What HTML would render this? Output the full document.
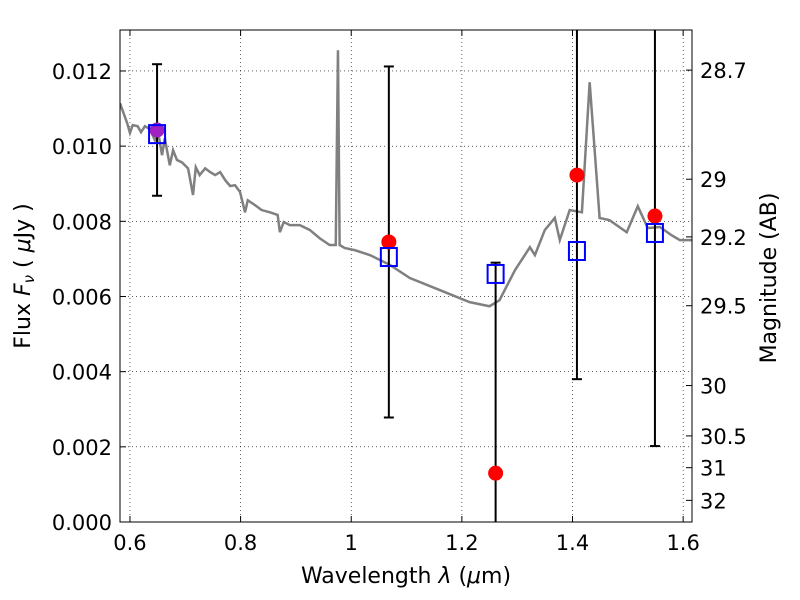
<!DOCTYPE html>
<html><head><meta charset="utf-8"><style>
html,body{margin:0;padding:0;background:#fff;width:800px;height:600px;overflow:hidden;}
svg{display:block;}
svg text{font-family:"DejaVu Sans","Liberation Sans",sans-serif;}
</style></head><body>
<svg id="chart" width="800" height="600" xmlns="http://www.w3.org/2000/svg"></svg>
<script>
const specLam=[0.582,0.595,0.600,0.605,0.614,0.620,0.627,0.636,0.645,0.651,0.658,0.663,0.672,0.678,0.685,0.694,0.705,0.714,0.719,0.726,0.736,0.745,0.754,0.763,0.772,0.781,0.790,0.799,0.808,0.813,0.826,0.838,0.853,0.867,0.871,0.878,0.889,0.907,0.925,0.943,0.961,0.972,0.976,0.979,0.988,1.007,1.034,1.070,1.106,1.160,1.214,1.250,1.268,1.296,1.323,1.332,1.350,1.368,1.377,1.395,1.417,1.431,1.449,1.467,1.498,1.518,1.536,1.558,1.579,1.594,1.616];
const specFlux=[0.01114,0.01061,0.01035,0.01056,0.01053,0.01037,0.01053,0.01045,0.01016,0.01037,0.00976,0.01021,0.00949,0.00989,0.00963,0.00957,0.00941,0.00870,0.00944,0.00923,0.00941,0.00931,0.00923,0.00931,0.00910,0.00894,0.00896,0.00878,0.00824,0.00856,0.00843,0.00830,0.00824,0.00817,0.00771,0.00798,0.00790,0.00790,0.00777,0.00755,0.00737,0.00737,0.01255,0.00737,0.00729,0.00723,0.00710,0.00684,0.00649,0.00617,0.00585,0.00574,0.00590,0.00670,0.00731,0.00710,0.00777,0.00809,0.00750,0.00830,0.00824,0.01170,0.00809,0.00803,0.00771,0.00840,0.00782,0.00785,0.00763,0.00750,0.00750];
const bandLam=[0.649,1.068,1.261,1.408,1.549];
const obsFlux=[0.01043,0.00745,0.00130,0.00923,0.00814];
const obsErr=[0.00175,0.00467,0.00560,0.00543,0.00612];
const modelFlux=[0.01032,0.00705,0.00660,0.00721,0.00769];
const xTicks=[0.8,1.0,1.2,1.4,1.6];
const xTickLabels=["0.8","1","1.2","1.4","1.6"];
const yTicks=[0,0.002,0.004,0.006,0.008,0.010,0.012];
const yTickLabels=["0.000","0.002","0.004","0.006","0.008","0.010","0.012"];
const magTicks=[28.7,29,29.2,29.5,30,30.5,31,32];
const magTickLabels=["28.7","29","29.2","29.5","30","30.5","31","32"];

const L=120,R=692,T=30,B=522,x0=0.582,x1=1.616,y0=0,y1=0.01309;
const sx=v=>L+(v-x0)/(x1-x0)*(R-L);
const sy=v=>B-(v-y0)/(y1-y0)*(B-T);
const svg=document.getElementById('chart');
const NS='http://www.w3.org/2000/svg';
function mk(tag,attrs,parent){const e=document.createElementNS(NS,tag);for(const k in attrs)e.setAttribute(k,attrs[k]);(parent||svg).appendChild(e);return e;}
const defs=mk('defs',{});const cp=mk('clipPath',{id:'clip'},defs);mk('rect',{x:L,y:T,width:R-L,height:B-T},cp);

const grid=mk('g',{});


[0.6].concat(xTicks).forEach(v=>mk('line',{x1:sx(v),x2:sx(v),y1:T,y2:B,stroke:'#000','stroke-dasharray':'1,3','stroke-width':0.6},grid));
yTicks.forEach(v=>mk('line',{x1:L,x2:R,y1:sy(v),y2:sy(v),stroke:'#000','stroke-dasharray':'1,3','stroke-width':0.6},grid));

const plot=mk('g',{'clip-path':'url(#clip)'});
const line=mk('polyline',{points:specLam.map((l,i)=>sx(l)+','+sy(specFlux[i])).join(' '),fill:'none',stroke:'#808080','stroke-width':2.5},plot);



bandLam.forEach((l,i)=>{
  const g=mk('g',{},plot);
  
  
  const x=sx(l),yt=sy(obsFlux[i]+obsErr[i]),yb=sy(obsFlux[i]-obsErr[i]);
  mk('line',{x1:x,x2:x,y1:yt,y2:yb,stroke:'#000','stroke-width':2},g);
  mk('line',{x1:x-5,x2:x+5,y1:yt,y2:yt,stroke:'#000','stroke-width':2},g);
  mk('line',{x1:x-5,x2:x+5,y1:yb,y2:yb,stroke:'#000','stroke-width':2},g);
});
bandLam.forEach((l,i)=>{
  const c=mk('circle',{cx:sx(l),cy:sy(obsFlux[i]),r:7.5,fill:i===0?'#a020c0':'#ff0000'},plot);
  
  
  const s=mk('rect',{x:sx(l)-8,y:sy(modelFlux[i])-9,width:16,height:18,fill:'none',stroke:'#0000ff','stroke-width':2},plot);
  
  
});

mk('rect',{x:L,y:T,width:R-L,height:B-T,fill:'none',stroke:'#000','stroke-width':1});

xTicks.concat([0.6]).forEach(v=>{
  mk('line',{x1:sx(v),x2:sx(v),y1:B,y2:B-6,stroke:'#000'});
  mk('line',{x1:sx(v),x2:sx(v),y1:T,y2:T+6,stroke:'#000'});
});
const tx=mk('text',{x:sx(0.6),y:B+28,'font-size':21,'text-anchor':'middle'});tx.textContent='0.6';

xTicks.forEach((v,i)=>{
  const t=mk('text',{x:sx(v),y:B+28,'font-size':21,'text-anchor':'middle'});t.textContent=xTickLabels[i];
  
  
});
yTicks.forEach((v,i)=>{
  mk('line',{x1:L,x2:L+6,y1:sy(v),y2:sy(v),stroke:'#000'});
  const t=mk('text',{x:L-8,y:sy(v)+8,'font-size':21,'text-anchor':'end'});t.textContent=yTickLabels[i];
  
  
});
const magToFlux=m=>Math.pow(10,(23.9-m)/2.5);
magTicks.forEach((m,i)=>{
  const y=sy(magToFlux(m));
  mk('line',{x1:R-6,x2:R,y1:y,y2:y,stroke:'#000'});
  const t=mk('text',{x:R+8,y:y+8,'font-size':21});t.textContent=magTickLabels[i];
  
  
});
const xt=mk('text',{x:406,y:583,'font-size':22,'text-anchor':'middle'});
xt.innerHTML='Wavelength  <tspan font-style="italic">λ</tspan> (<tspan font-style="italic">μ</tspan>m)';

const yt=mk('text',{x:0,y:0,'font-size':22,'text-anchor':'middle',transform:'translate(30,276) rotate(-90)'});
yt.innerHTML='Flux  <tspan font-style="italic">F</tspan><tspan font-style="italic" font-size="15" dy="4">ν</tspan><tspan dy="-4">  ( </tspan><tspan font-style="italic">μ</tspan>Jy )';

const rt=mk('text',{x:0,y:0,'font-size':22,'text-anchor':'middle',transform:'translate(776,278) rotate(-90)'});
rt.textContent='Magnitude (AB)';

</script>
</body></html>
